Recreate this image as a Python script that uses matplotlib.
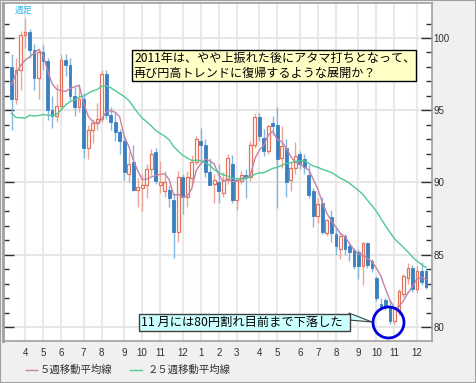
#週足ローソク足チャート（ドル円）
import numpy as np
import pandas as pd
import matplotlib
matplotlib.use("Agg")
from matplotlib import pyplot as plt
from matplotlib import patches
from matplotlib.lines import Line2D

plt.rcParams['font.family'] = ['Noto Sans CJK JP', 'DejaVu Sans']

#データ：2009年3月16日の週から毎週
start = "2009-03-16"
opens = [98.0, 95.8, 97.8, 100.2, 100.4, 99.2, 97.2, 99.0, 98.4, 95.0,
         94.6, 95.3, 98.5, 98.1, 96.0, 95.2, 95.8, 92.4, 93.6, 94.1,
         94.4, 97.5, 94.7, 94.2, 93.5, 92.9, 90.6, 91.4, 89.5, 89.6,
         89.8, 90.9, 92.1, 89.8, 89.4, 89.5, 88.8, 86.6, 90.4, 89.0,
         90.3, 91.4, 92.9, 92.6, 90.7, 89.9, 90.0, 89.3, 90.2, 91.3,
         88.8, 90.1, 90.5, 90.4, 92.6, 94.5, 93.1, 92.2, 94.1, 94.0,
         91.7, 92.4, 90.2, 91.0, 92.0, 91.6, 90.5, 89.4, 87.7, 88.6,
         86.5, 87.6, 86.4, 85.4, 86.3, 85.6, 85.3, 85.2, 84.2, 85.8,
         84.6, 83.4, 81.6, 81.9, 81.4, 80.4, 81.2, 82.3, 83.4, 84.1,
         82.6, 83.9, 83.9]
highs = [98.9, 98.6, 100.5, 101.4, 100.6, 99.6, 99.3, 99.5, 98.6, 96.0,
         96.8, 98.9, 98.9, 98.6, 96.6, 96.8, 96.2, 94.0, 94.4, 95.5,
         97.8, 97.8, 95.2, 94.9, 93.7, 93.3, 92.1, 92.6, 90.3, 90.6,
         91.3, 92.3, 92.4, 91.5, 90.8, 89.8, 89.3, 90.8, 90.6, 90.8,
         91.9, 93.2, 93.8, 93.0, 91.7, 90.6, 91.3, 90.7, 92.0, 91.9,
         90.3, 90.8, 90.9, 92.9, 94.8, 94.8, 93.7, 94.0, 94.6, 95.2,
         93.9, 93.0, 91.5, 92.8, 92.2, 92.0, 91.2, 89.6, 88.9, 89.0,
         87.5, 88.1, 86.9, 86.5, 86.4, 85.8, 85.5, 85.4, 85.9, 85.9,
         84.7, 83.5, 82.0, 82.0, 81.9, 81.4, 82.6, 83.7, 84.4, 84.3,
         84.2, 84.5, 84.0]
lows = [93.6, 95.4, 96.4, 99.3, 98.6, 96.4, 95.8, 97.8, 94.3, 93.8,
        94.2, 95.0, 97.4, 95.7, 94.6, 94.9, 91.7, 91.6, 92.7, 93.6,
        94.2, 94.4, 93.6, 92.9, 92.0, 90.2, 90.0, 89.4, 88.3, 88.0,
        88.9, 90.5, 89.9, 89.3, 89.0, 88.3, 84.8, 85.9, 87.8, 88.3,
        89.8, 91.2, 91.3, 90.4, 89.8, 88.6, 88.6, 89.0, 89.9, 88.6,
        88.1, 89.9, 88.9, 90.1, 92.4, 92.9, 91.8, 92.0, 93.3, 88.2,
        91.0, 89.0, 89.4, 90.6, 90.9, 90.6, 88.9, 86.9, 87.2, 86.4,
        86.3, 85.9, 85.0, 84.7, 85.0, 84.6, 84.0, 83.3, 82.9, 84.1,
        83.8, 81.8, 81.2, 81.2, 80.2, 80.2, 80.8, 82.1, 83.0, 82.4,
        82.4, 82.9, 82.6]
closes = [95.8, 97.8, 100.2, 100.4, 99.2, 97.2, 99.0, 98.4, 95.0, 94.6,
          95.3, 98.5, 98.1, 96.0, 95.2, 95.8, 92.4, 93.6, 94.1, 94.4,
          97.5, 94.7, 94.2, 93.5, 92.9, 90.7, 91.3, 89.5, 89.7, 89.8,
          90.9, 92.0, 90.1, 90.0, 90.0, 88.9, 86.6, 90.4, 89.0, 90.4,
          91.4, 93.0, 92.6, 90.7, 89.8, 90.2, 89.4, 90.2, 91.7, 88.8,
          90.2, 90.5, 90.4, 92.6, 94.5, 93.2, 92.2, 93.9, 93.9, 91.6,
          92.5, 90.0, 91.0, 91.8, 91.3, 91.1, 89.1, 87.7, 88.5, 86.6,
          87.4, 86.5, 85.6, 86.3, 85.4, 85.2, 84.2, 84.2, 85.8, 84.3,
          84.1, 82.0, 81.4, 81.4, 80.4, 81.3, 82.5, 83.5, 84.1, 82.6,
          83.9, 83.1, 82.8]
#移動平均用（表示期間より前の週の終値）
prior_closes = [105.3, 100.3, 101.6, 94.0, 98.5, 98.0, 96.9, 95.8, 95.5, 92.9,
                91.2, 89.3, 90.6, 92.0, 90.8, 90.8, 88.8, 89.9, 92.0, 91.9,
                93.7, 97.6, 98.5, 98.1]

ma5_label = "５週移動平均線"
ma25_label = "２５週移動平均線"
note1 = ["2011年は、やや上振れた後にアタマ打ちとなって、",
         "再び円高トレンドに復帰するような展開か？"]
note2 = "11 月には80円割れ目前まで下落した"

weeks = pd.date_range(start, periods=len(closes), freq="W-MON")
x = np.arange(len(closes))
allc = pd.Series(prior_closes + closes)
ma5 = allc.rolling(5).mean().values[len(prior_closes):]
ma25 = allc.rolling(25).mean().values[len(prior_closes):]

#月の区切り
mpos = [i for i in range(1, len(weeks)) if weeks[i].month != weeks[i-1].month]
mlab = [str(weeks[i].month) for i in mpos]

W, H = 476, 383
def fx(px):
    return px / W
def fy(py):
    return 1 - py / H

fig = plt.figure(figsize=(W/100, H/100), dpi=100, facecolor="#f0f0f0")
ax = fig.add_axes([fx(3), fy(341), fx(432) - fx(3), fy(3) - fy(341)])
ax.set_facecolor("white")
ax.set_xlim(-1.89, 93.33)
ax.set_ylim(79.03, 102.42)

#グリッド
for p in mpos:
    ax.axvline(p, color="#e8e8e8", lw=1.5, zorder=0)
for v in range(80, 101, 5):
    ax.axhline(v, color="#e4e4e4", lw=1.3, zorder=0)

#ローソク足
up_c, up_w = "#e2735c", "#eea595"
dn_c, dn_w = "#3a80c0", "#85b6de"
o = np.array(opens); c = np.array(closes)
up = c >= o
ax.vlines(x[up], np.array(lows)[up], np.array(highs)[up], color=up_w, lw=1.0, zorder=2)
ax.vlines(x[~up], np.array(lows)[~up], np.array(highs)[~up], color=dn_w, lw=1.0, zorder=2)
body_lo = np.minimum(o, c)
body_h = np.maximum(np.abs(c - o), 0.08)
ax.bar(x[up], body_h[up], bottom=body_lo[up], width=0.62, facecolor="white",
       edgecolor=up_c, lw=0.9, zorder=3)
ax.bar(x[~up], body_h[~up], bottom=body_lo[~up], width=0.62, facecolor=dn_c,
       edgecolor=dn_c, lw=0.6, zorder=3)

ax.plot(x, ma5, color="#c383a8", lw=1.0, zorder=4)
ax.plot(x, ma25, color="#52c892", lw=1.0, zorder=4)

#軸
for s in ax.spines.values():
    s.set_color("#a0a0a0")
    s.set_linewidth(1.2)
ax.spines["left"].set_linewidth(2)
ax.set_yticks(range(80, 101, 5))
ax.set_yticks(range(80, 102), minor=True)
ax.tick_params(axis="y", which="both", direction="in", left=True, right=True,
               labelleft=False, labelright=True, colors="#303030",
               labelsize=7, pad=1)
ax.tick_params(axis="y", which="major", length=8, width=1)
ax.tick_params(axis="y", which="minor", length=4.5, width=1)
ax.set_xticks(mpos)
ax.set_xticklabels(mlab)
ax.tick_params(axis="x", length=0, labelsize=7, colors="#303030", pad=5)
for t in ax.get_xticklabels() + ax.get_yticklabels():
    t.set_family(["Liberation Sans", "DejaVu Sans"])

fig.text(fx(15), fy(10), "週足", color="#38b8ec", fontsize=6.5, va="center")

#コメント枠
fig.patches.append(patches.Rectangle((fx(132), fy(81)), fx(416) - fx(132), fy(50) - fy(81),
                                     transform=fig.transFigure, facecolor="#ffffc6",
                                     edgecolor="black", lw=1, zorder=5))
fig.text(fx(134), fy(58), note1[0], fontsize=8.7, va="center", zorder=6)
fig.text(fx(134), fy(73), note1[1], fontsize=8.7, va="center", zorder=6)

fig.patches.append(patches.Polygon([(fx(349), fy(313)), (fx(372), fy(322)), (fx(349), fy(320))],
                                   closed=True, transform=fig.transFigure, facecolor="#ccffff",
                                   edgecolor="#404040", lw=0.8, zorder=5))
fig.patches.append(patches.Rectangle((fx(139), fy(331)), fx(350) - fx(139), fy(314) - fy(331),
                                     transform=fig.transFigure, facecolor="#ccffff",
                                     edgecolor="#404040", lw=1, zorder=5))
fig.text(fx(141), fy(322.5), note2, fontsize=8.8, va="center", zorder=6)
fig.patches.append(patches.Ellipse((fx(388.5), fy(322.5)), 31 / W, 31 / H,
                                   transform=fig.transFigure, facecolor="none",
                                   edgecolor="#0000dd", lw=2, zorder=6))

#凡例
fig.lines.append(Line2D([fx(26), fx(37)], [fy(370), fy(370)], color="#c383a8", lw=1,
                        transform=fig.transFigure))
fig.text(fx(40), fy(370), ma5_label, fontsize=7.5, va="center", color="#303030")
fig.lines.append(Line2D([fx(130), fx(142)], [fy(370), fy(370)], color="#52c892", lw=1,
                        transform=fig.transFigure))
fig.text(fx(148), fy(370), ma25_label, fontsize=7.5, va="center", color="#303030")

#外枠
fig.patches.append(patches.Rectangle((0, 0), 1, 1, transform=fig.transFigure,
                                     facecolor="none", edgecolor="#a0a0a0", lw=1.5))

plt.savefig("out.png", dpi=100, facecolor=fig.get_facecolor())
